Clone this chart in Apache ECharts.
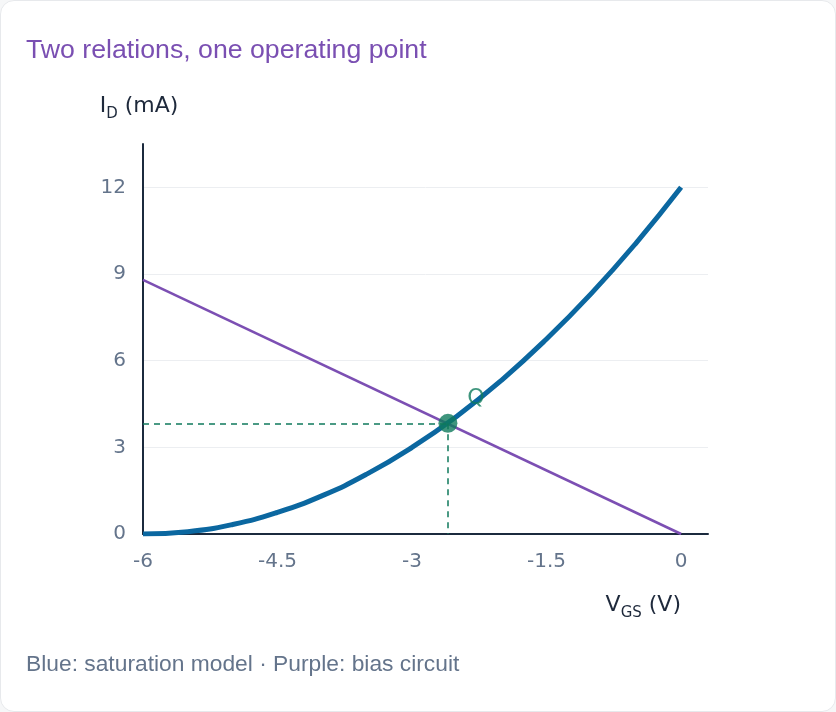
<!DOCTYPE html>
<html>
<head>
<meta charset="utf-8">
<script src="https://cdn.jsdelivr.net/npm/echarts@6/dist/echarts.min.js"></script>
<style>
html, body { margin: 0; padding: 0; background: #f6f7f8; }
#card { width: 834px; height: 710px; background: #fff; border: 1px solid #e7e9ec; border-radius: 14px; }
</style>
</head>
<body>
<div id="card"></div>
<script>
// values
var vgs = [-6, -5.5, -5, -4.5, -4, -3.5, -3, -2.5, -2, -1.5, -1, -0.5, 0];
var idSat = [0, 0.08, 0.33, 0.75, 1.33, 2.08, 3.0, 4.08, 5.33, 6.75, 8.33, 10.08, 12];
var biasV = [-6, 0];
var biasI = [8.8, 0];
var qV = -2.6, qI = 3.83;

var chart = echarts.init(document.getElementById('card'));
chart.setOption({
    animation: false,
    title: [{
        text: 'Two relations, one operating point',
        left: 20, top: 31,
        textStyle: {fontFamily: 'Liberation Sans', fontSize: 26.7, fontWeight: 'normal', color: '#7a4fb2'}
    }, {
        text: 'Blue: saturation model \u00b7 Purple: bias circuit',
        left: 20, top: 647,
        textStyle: {fontFamily: 'Liberation Sans', fontSize: 22.8, fontWeight: 'normal', color: '#64748b'}
    }],
    grid: {left: 142, right: 127, top: 143, bottom: 177},
    xAxis: {
        type: 'value', min: -6, max: 0.3, interval: 1.5,
        name: '{a|V}{s|GS}{a| (V)}',
        nameLocation: 'end', nameGap: -27,
        nameTextStyle: {
            align: 'right', verticalAlign: 'top', padding: [56, 0, 0, 0],
            rich: {
                a: {fontFamily: 'DejaVu Sans', fontSize: 22, color: '#1e293b'},
                s: {fontFamily: 'DejaVu Sans', fontSize: 15, color: '#1e293b', padding: [16, 0, 0, 0]}
            }
        },
        axisLine: {onZero: false, lineStyle: {color: '#1b2a3d', width: 2}},
        axisTick: {show: false},
        splitLine: {show: false},
        axisLabel: {
            margin: 18, fontFamily: 'DejaVu Sans', fontSize: 20, color: '#64748b',
            formatter: function (v) { return v > 0 ? '' : String(v); }
        }
    },
    yAxis: {
        type: 'value', min: 0, max: 13.5, interval: 3,
        name: '{a|I}{s|D}{a| (mA)}',
        nameLocation: 'end', nameGap: 22,
        nameTextStyle: {
            align: 'center', padding: [0, 8, 0, 0],
            rich: {
                a: {fontFamily: 'DejaVu Sans', fontSize: 22, color: '#1e293b'},
                s: {fontFamily: 'DejaVu Sans', fontSize: 15, color: '#1e293b', padding: [17, 0, 0, 0]}
            }
        },
        axisLine: {show: true, onZero: false, lineStyle: {color: '#1b2a3d', width: 2}},
        axisTick: {show: false},
        splitLine: {showMaxLine: false, lineStyle: {color: '#eceef1', width: 1}},
        axisLabel: {
            margin: 17, fontFamily: 'DejaVu Sans', fontSize: 20, color: '#64748b',
            formatter: function (v) { return v > 12 ? '' : String(v); }
        }
    },
    series: [{
        name: 'saturation model',
        type: 'line',
        smooth: true,
        showSymbol: false,
        data: vgs.map(function (v, i) { return [v, idSat[i]]; }),
        lineStyle: {color: '#0b67a0', width: 5},
        z: 3
    }, {
        name: 'bias circuit',
        type: 'line',
        showSymbol: false,
        data: biasV.map(function (v, i) { return [v, biasI[i]]; }),
        lineStyle: {color: '#7c4fb3', width: 2.5},
        z: 2
    }, {
        name: 'Q',
        type: 'scatter',
        data: [[qV, qI]],
        symbolSize: 19,
        itemStyle: {color: '#0f7a5c'},
        label: {
            show: true, formatter: 'Q', position: 'inside', offset: [28, -25],
            fontFamily: 'DejaVu Sans', fontSize: 22, color: '#0f7a5c'
        },
        markLine: {
            silent: true, symbol: 'none',
            lineStyle: {color: '#0f7a5c', type: [6, 5], width: 1.5},
            label: {show: false},
            data: [
                [{coord: [-6, qI]}, {coord: [qV, qI]}],
                [{coord: [qV, qI]}, {coord: [qV, 0]}]
            ]
        },
        z: 4
    }]
});
</script>
</body>
</html>
